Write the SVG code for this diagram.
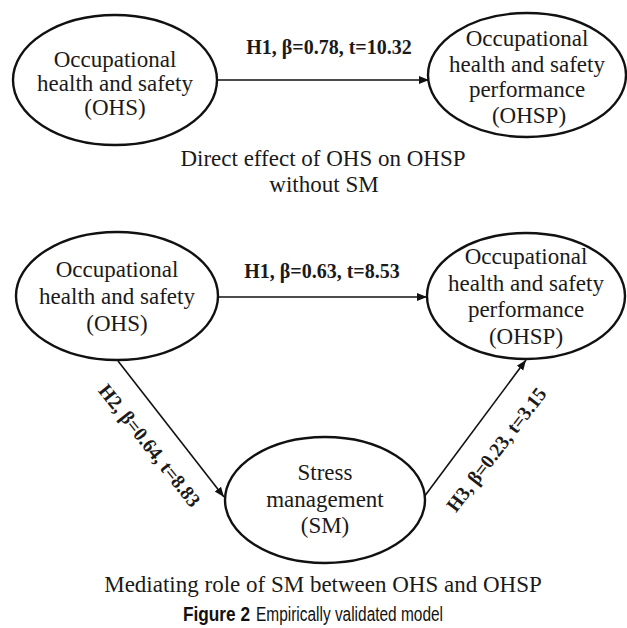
<svg xmlns="http://www.w3.org/2000/svg" width="627" height="628" viewBox="0 0 627 628">
<defs>
<style>
.node ellipse{fill:#fff;stroke:#111;stroke-width:2.4}
.nt{font-family:"Liberation Serif","Times New Roman",serif;font-size:23px;fill:#1a1a1a;text-anchor:middle}
.lbl{font-family:"Liberation Serif","Times New Roman",serif;font-size:20px;font-weight:bold;fill:#1a1a1a;text-anchor:middle}
.cap{font-family:"Liberation Serif","Times New Roman",serif;font-size:23px;fill:#1a1a1a;text-anchor:middle}
.fig{font-family:"Liberation Sans",Arial,sans-serif;font-size:20px;fill:#111}
.edge{stroke:#111;stroke-width:1.6;fill:none}
</style>
<marker id="arr" viewBox="0 0 10 10" refX="10" refY="5" markerWidth="10" markerHeight="10" markerUnits="userSpaceOnUse" orient="auto">
<path d="M0,1 L10,5 L0,9 Z" fill="#111"/>
</marker>
</defs>
<rect width="627" height="628" fill="#fff"/>

<g id="connectors">
<line class="edge" x1="217" y1="80" x2="429" y2="80" marker-end="url(#arr)"/>
<line class="edge" x1="218" y1="297" x2="427" y2="297" marker-end="url(#arr)"/>
<line class="edge" x1="118" y1="361" x2="224" y2="497" marker-end="url(#arr)"/>
<line class="edge" x1="424" y1="497" x2="526" y2="360" marker-end="url(#arr)"/>
<text class="lbl" x="329" y="54">H1, β=0.78, t=10.32</text>
<text class="lbl" x="322" y="278">H1, β=0.63, t=8.53</text>
<text class="lbl" transform="translate(149,446) rotate(51.5)" x="0" y="6" textLength="150" lengthAdjust="spacingAndGlyphs">H2, β=0.64, t=8.83</text>
<text class="lbl" transform="translate(497,450) rotate(-52.5)" x="0" y="6" textLength="150" lengthAdjust="spacingAndGlyphs">H3, β=0.23, t=3.15</text>
</g>

<g id="ohs-top" class="node">
<ellipse cx="115" cy="80" rx="102" ry="65"/>
<text class="nt" x="115" y="67">Occupational</text>
<text class="nt" x="115" y="91">health and safety</text>
<text class="nt" x="115" y="115">(OHS)</text>
</g>

<g id="ohsp-top" class="node">
<ellipse cx="527" cy="75" rx="99" ry="62"/>
<text class="nt" x="527" y="46">Occupational</text>
<text class="nt" x="527" y="72">health and safety</text>
<text class="nt" x="527" y="97">performance</text>
<text class="nt" x="529" y="123">(OHSP)</text>
</g>

<g id="ohs-bottom" class="node">
<ellipse cx="117" cy="296" rx="101" ry="64"/>
<text class="nt" x="117" y="277">Occupational</text>
<text class="nt" x="117" y="304">health and safety</text>
<text class="nt" x="117" y="331">(OHS)</text>
</g>

<g id="ohsp-bottom" class="node">
<ellipse cx="526" cy="296" rx="99" ry="63"/>
<text class="nt" x="526" y="264">Occupational</text>
<text class="nt" x="526" y="291">health and safety</text>
<text class="nt" x="526" y="317">performance</text>
<text class="nt" x="526" y="344">(OHSP)</text>
</g>

<g id="sm" class="node">
<ellipse cx="325" cy="500" rx="100" ry="63"/>
<text class="nt" x="325" y="480">Stress</text>
<text class="nt" x="325" y="507">management</text>
<text class="nt" x="325" y="533">(SM)</text>
</g>

<g id="captions">
<text class="cap" x="323" y="166">Direct effect of OHS on OHSP</text>
<text class="cap" x="324" y="192">without SM</text>
<text class="cap" x="323" y="592">Mediating role of SM between OHS and OHSP</text>
<text class="fig" x="183" y="621" font-weight="bold" textLength="67" lengthAdjust="spacingAndGlyphs">Figure 2</text>
<text class="fig" x="256" y="621" textLength="187" lengthAdjust="spacingAndGlyphs">Empirically validated model</text>
</g>
</svg>
